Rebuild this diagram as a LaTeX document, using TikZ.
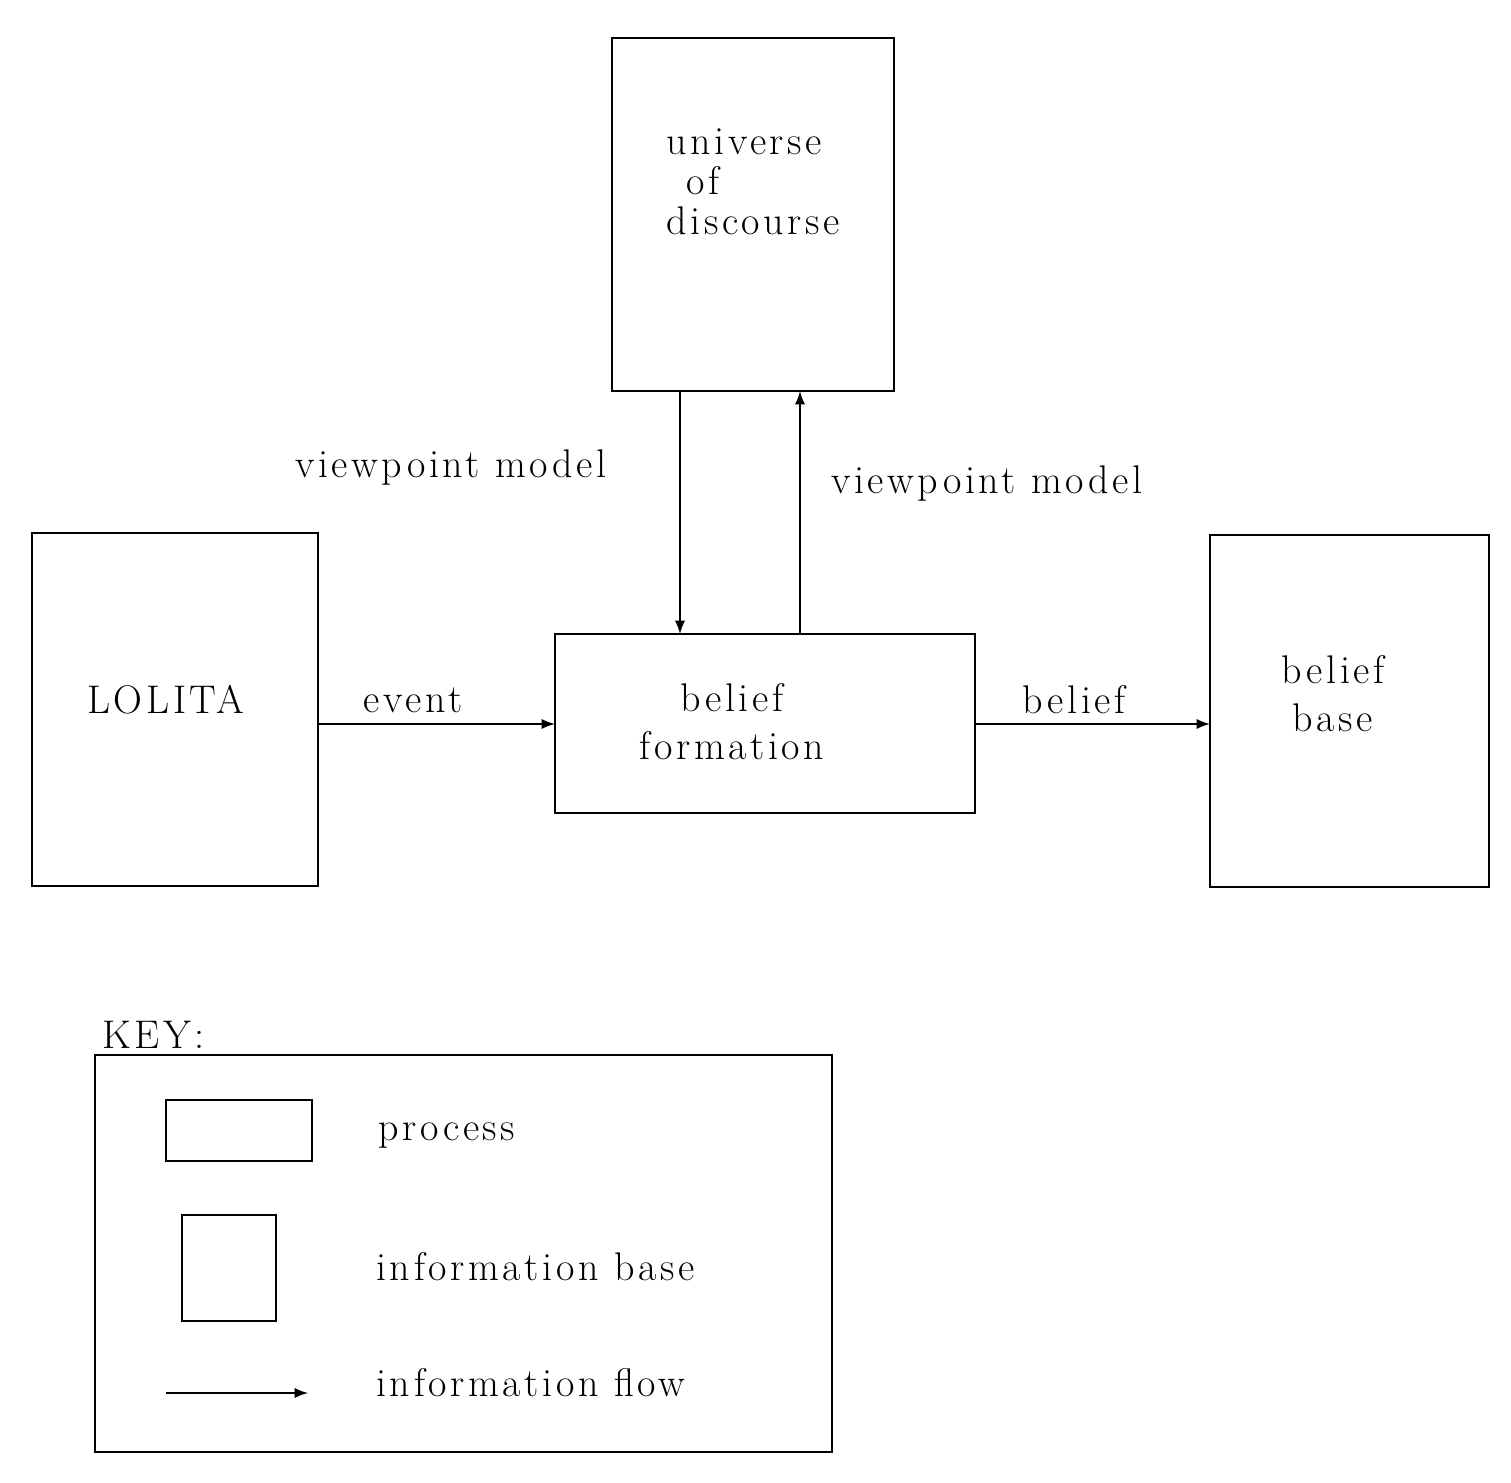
\documentclass[tikz,border=0pt]{standalone}
\usepackage{fontspec}
\setmainfont{Latin Modern Roman}[LetterSpace=9]
\begin{document}
\begin{tikzpicture}[x=0.5pt,y=-0.5pt,
  box/.style={draw,line width=1.4pt},
  flow/.style={line width=1.3pt,-latex},
  lab/.style={font=\fontsize{20}{24}\selectfont,inner sep=0pt}]
\useasboundingbox (0,0) rectangle (1511,1483);
\draw[box] (612,38) rectangle (894,391);
\node[lab,align=left,anchor=west] (udt) at (666,182) {universe\\[-4pt]\hspace*{0.5em}of\\[-4pt]discourse};
\draw[box] (32,533) rectangle (318,886);
\node[lab] (lol) at (166,700) {LOLITA};
\draw[box] (555,634) rectangle (975,813);
\node[lab,align=center] (bf) at (732,722) {belief\\formation};
\draw[box] (1210,535) rectangle (1489,887);
\node[lab,align=center] (bb) at (1333,694) {belief\\base};
\coordinate (a1) at (680,391); \coordinate (a2) at (680,634);
\coordinate (b1) at (800,634); \coordinate (b2) at (800,391);
\coordinate (e1) at (318,724); \coordinate (e2) at (555,724);
\coordinate (f1) at (975,724); \coordinate (f2) at (1210,724);
\draw[flow] (a1) -- (a2);
\draw[flow] (b1) -- (b2);
\draw[flow] (e1) -- (e2);
\draw[flow] (f1) -- (f2);
\node[lab] (vm1) at (451,468) {viewpoint model};
\node[lab] (vm2) at (987,484) {viewpoint model};
\node[lab] (ev) at (413,700) {event};
\node[lab] (bl) at (1074,700) {belief};
\node[lab,anchor=west] (key) at (102,1035) {KEY:};
\draw[box] (95,1055) rectangle (832,1452);
\draw[box] (166,1100) rectangle (312,1161);
\draw[box] (182,1215) rectangle (276,1321);
\coordinate (k1) at (166,1393); \coordinate (k2) at (308,1393);
\draw[flow] (k1) -- (k2);
\node[lab,anchor=west] (p) at (378,1136) {process};
\node[lab,anchor=west] (ib) at (376,1267) {information base};
\node[lab,anchor=west] (if) at (376,1383) {information flow};
\end{tikzpicture}
\end{document}
